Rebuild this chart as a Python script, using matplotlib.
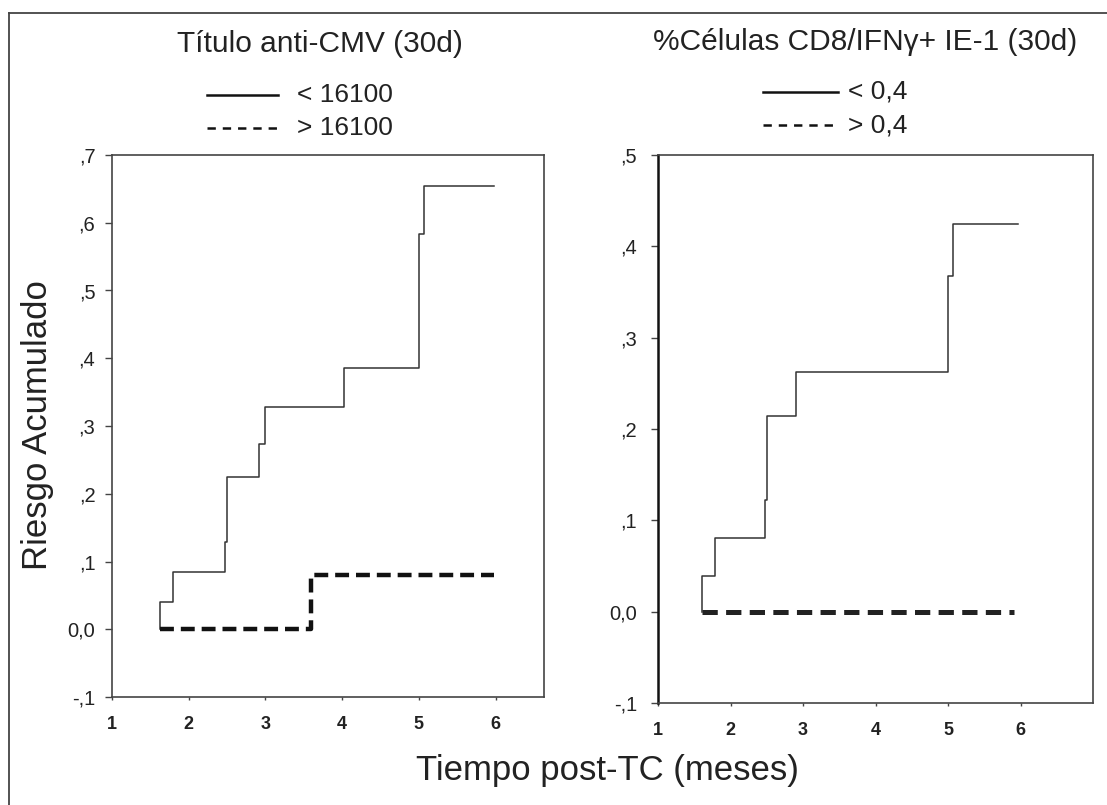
import matplotlib
matplotlib.use("Agg")
import matplotlib.pyplot as plt
from matplotlib.lines import Line2D

plt.rcParams['font.family'] = ['Liberation Sans', 'DejaVu Sans']
plt.rcParams['lines.scale_dashes'] = False

# Datos (meses, riesgo acumulado)
t_izq_bajo = [1.62, 1.62, 1.80, 2.47, 2.50, 2.91, 3.00, 4.02, 5.00, 5.07, 5.98]
r_izq_bajo = [0.0, 0.040, 0.084, 0.129, 0.225, 0.274, 0.328, 0.385, 0.583, 0.654, 0.654]
t_izq_alto = [1.62, 3.59, 5.98]
r_izq_alto = [0.0, 0.080, 0.080]

t_der_bajo = [1.60, 1.60, 1.79, 2.47, 2.50, 2.90, 5.00, 5.07, 5.97]
r_der_bajo = [0.0, 0.039, 0.081, 0.122, 0.214, 0.262, 0.367, 0.424, 0.424]
t_der_alto = [1.60, 5.91]
r_der_alto = [0.0, 0.0]

x_ticks = [1, 2, 3, 4, 5, 6]
y_ticks_izq = [-0.1, 0.0, 0.1, 0.2, 0.3, 0.4, 0.5, 0.6, 0.7]
y_labels_izq = ['-,1', '0,0', ',1', ',2', ',3', ',4', ',5', ',6', ',7']
y_ticks_der = [-0.1, 0.0, 0.1, 0.2, 0.3, 0.4, 0.5]
y_labels_der = ['-,1', '0,0', ',1', ',2', ',3', ',4', ',5']

titulos = ['Título anti-CMV (30d)', '%Células CD8/IFNγ+ IE-1 (30d)']
leyendas = [['< 16100', '> 16100'], ['< 0,4', '> 0,4']]

W, H = 1107, 805
fig = plt.figure(figsize=(W / 100, H / 100), dpi=100)
tc = '#222222'


def px(x0, y0, x1, y1):
    return [x0 / W, 1 - y1 / H, (x1 - x0) / W, (y1 - y0) / H]


ax1 = fig.add_axes(px(112, 155, 544, 697))
ax2 = fig.add_axes(px(658, 155, 1093, 703))

ax1.plot(t_izq_bajo, r_izq_bajo, drawstyle='steps-post', color='#333333', lw=1.1)
ax1.plot(t_izq_alto, r_izq_alto, drawstyle='steps-post', color='#111111', lw=3.2,
         dashes=(10, 5))
ax2.plot(t_der_bajo, r_der_bajo, drawstyle='steps-post', color='#333333', lw=1.1)
ax2.plot(t_der_alto, r_der_alto, drawstyle='steps-post', color='#222222', lw=3.6,
         dashes=(11, 6))

ax1.set_xlim(1, 6.63)
ax1.set_ylim(-0.1, 0.7)
ax1.set_yticks(y_ticks_izq)
ax1.set_yticklabels(y_labels_izq)
ax2.set_xlim(1, 7)
ax2.set_ylim(-0.1, 0.5)
ax2.set_yticks(y_ticks_der)
ax2.set_yticklabels(y_labels_der)

for ax, ypad in [(ax1, 7), (ax2, 10)]:
    ax.set_xticks(x_ticks)
    ax.set_xticklabels([str(v) for v in x_ticks], fontweight='bold')
    for s in ax.spines.values():
        s.set_color('#444444')
        s.set_linewidth(1.2)
    ax.tick_params(axis='y', length=5, width=1, color='#444444', labelsize=14.5,
                   labelcolor=tc, pad=ypad)
    ax.tick_params(axis='x', length=2.5, width=1, color='#444444', labelsize=13,
                   labelcolor=tc, pad=11)
ax2.spines['left'].set_linewidth(1.8)
ax2.spines['left'].set_color('#111111')

# titulos y leyendas
fig.text(320 / W, 1 - 44 / H, titulos[0], ha='center', va='center', fontsize=21.5, color=tc)
fig.text(865 / W, 1 - 42 / H, titulos[1], ha='center', va='center', fontsize=21.5, color=tc)

leg_pos = [(207, 278, 297, 95, 128), (763, 838, 848, 92, 125)]
for (xa, xb, xt, ya, yb), labs in zip(leg_pos, leyendas):
    fig.add_artist(Line2D([xa / W, xb / W], [1 - ya / H, 1 - ya / H], color='#111111', lw=1.8))
    fig.add_artist(Line2D([xa / W, xb / W], [1 - yb / H, 1 - yb / H], color='#111111', lw=1.8,
                          dashes=(6, 5)))
    fig.text(xt / W, 1 - ya / H, labs[0], ha='left', va='center', fontsize=19, color=tc)
    fig.text(xt / W, 1 - yb / H, labs[1], ha='left', va='center', fontsize=19, color=tc)

fig.text(38 / W, 1 - 425 / H, 'Riesgo Acumulado', rotation=90, ha='center', va='center',
         fontsize=25, color=tc)
fig.text(607 / W, 1 - 770 / H, 'Tiempo post-TC (meses)', ha='center', va='center',
         fontsize=25, color=tc)

# marco exterior
fig.add_artist(Line2D([9 / W, 9 / W], [0, 1 - 13 / H], color='#444444', lw=1.3))
fig.add_artist(Line2D([9 / W, 1], [1 - 13 / H, 1 - 13 / H], color='#444444', lw=1.3))

fig.savefig('out.png', dpi=100)
